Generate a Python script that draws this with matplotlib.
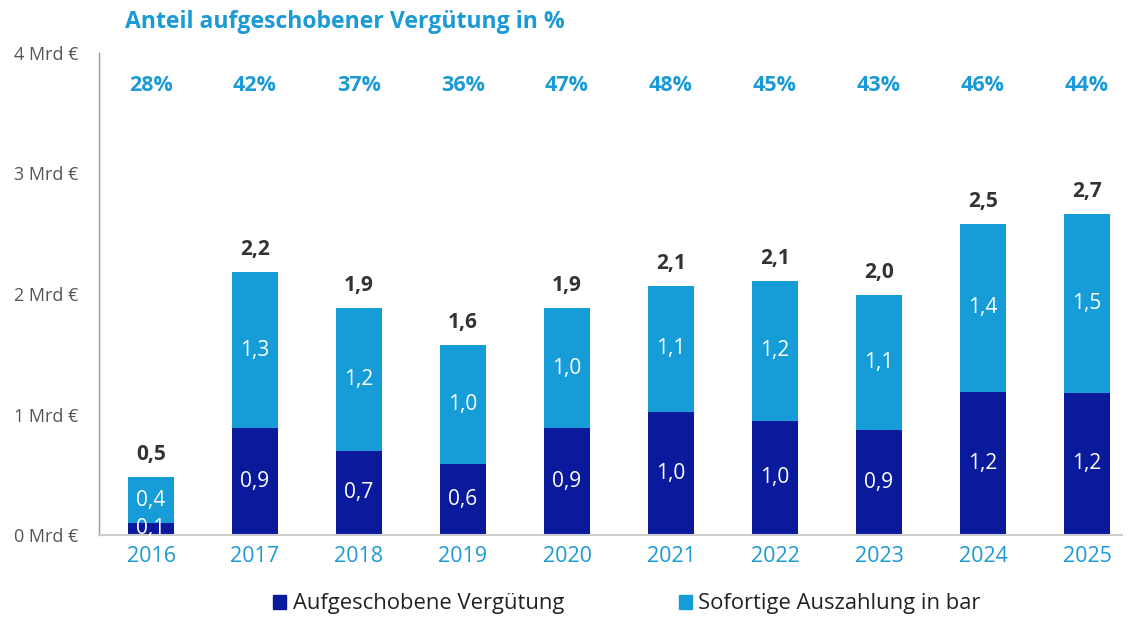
import matplotlib
matplotlib.use("Agg")
import matplotlib.pyplot as plt
from matplotlib.patches import Patch

years = ["2016", "2017", "2018", "2019", "2020", "2021", "2022", "2023", "2024", "2025"]
deferred = [0.10, 0.89, 0.70, 0.59, 0.89, 1.02, 0.95, 0.87, 1.19, 1.18]
immediate = [0.38, 1.29, 1.18, 0.99, 0.99, 1.05, 1.16, 1.12, 1.39, 1.48]
deferred_labels = ["0,1", "0,9", "0,7", "0,6", "0,9", "1,0", "1,0", "0,9", "1,2", "1,2"]
immediate_labels = ["0,4", "1,3", "1,2", "1,0", "1,0", "1,1", "1,2", "1,1", "1,4", "1,5"]
total_labels = ["0,5", "2,2", "1,9", "1,6", "1,9", "2,1", "2,1", "2,0", "2,5", "2,7"]
share_labels = ["28%", "42%", "37%", "36%", "47%", "48%", "45%", "43%", "46%", "44%"]
yticks = [0, 1, 2, 3, 4]
ytick_labels = ["0 Mrd €", "1 Mrd €", "2 Mrd €", "3 Mrd €", "4 Mrd €"]
series_names = ["Aufgeschobene Vergütung", "Sofortige Auszahlung in bar"]
title = "Anteil aufgeschobener Vergütung in %"

DARK = "#0a1a9c"
LIGHT = "#169cd7"
ACCENT = "#1c9ad6"
GRAY_TXT = "#555555"
TOTAL_TXT = "#333333"

plt.rcParams["font.family"] = ["Open Sans", "DejaVu Sans"]

fig = plt.figure(figsize=(11.29, 6.17), dpi=100)
W, H = 1129, 617
ax_left, ax_right, ax_top, ax_bot = 99, 1122, 53, 535
ax = fig.add_axes([ax_left / W, 1 - ax_bot / H, (ax_right - ax_left) / W, (ax_bot - ax_top) / H])

x = list(range(len(years)))
bw = 0.44
ax.bar(x, deferred, width=bw, color=DARK, zorder=2)
ax.bar(x, immediate, width=bw, bottom=deferred, color=LIGHT, zorder=2)

for i in x:
    d = deferred[i]
    t = immediate[i]
    ax.text(i, d / 2 if d > 0.2 else -0.03, deferred_labels[i], ha="center",
            va="center" if d > 0.2 else "bottom", color="white", fontsize=15, zorder=3)
    ax.text(i, d + t / 2, immediate_labels[i], ha="center", va="center",
            color="white", fontsize=15, zorder=3)
    ax.text(i, d + t + 0.1, total_labels[i], ha="center", va="bottom",
            color=TOTAL_TXT, fontsize=15, fontweight="bold", zorder=3)
    ax.text(i, 3.73, share_labels[i], ha="center", va="center",
            color=ACCENT, fontsize=15.5, fontweight="bold", zorder=3)

ax.set_xlim(-0.5, (ax_right - ax_left) / 104 - 0.5)
ax.set_ylim(0, 4)
ax.set_xticks(x)
ax.set_xticklabels(years, color=ACCENT, fontsize=15.5)
ax.set_yticks(yticks)
ax.set_yticklabels(ytick_labels, color=GRAY_TXT, fontsize=13)
ax.tick_params(axis="both", length=0)
ax.tick_params(axis="x", pad=8)
ax.tick_params(axis="y", pad=15)
for s in ["top", "right"]:
    ax.spines[s].set_visible(False)
ax.spines["left"].set_color("#999999")
ax.spines["left"].set_linewidth(1.0)
ax.spines["bottom"].set_color("#cccccc")
ax.spines["bottom"].set_linewidth(1.5)

fig.text(125 / W, 1 - 22 / H, title, color=ACCENT, fontsize=16.6, fontweight="bold",
         ha="left", va="center")

handles = [Patch(color=DARK), Patch(color=LIGHT)]
fig.legend(handles, series_names, loc="center", bbox_to_anchor=(627 / W, 1 - 604 / H),
           ncol=2, frameon=False, fontsize=15.8, handlelength=0.6, handleheight=0.6,
           handletextpad=0.3, columnspacing=5.2, labelcolor="#222222")

fig.savefig("out.png", dpi=100)
